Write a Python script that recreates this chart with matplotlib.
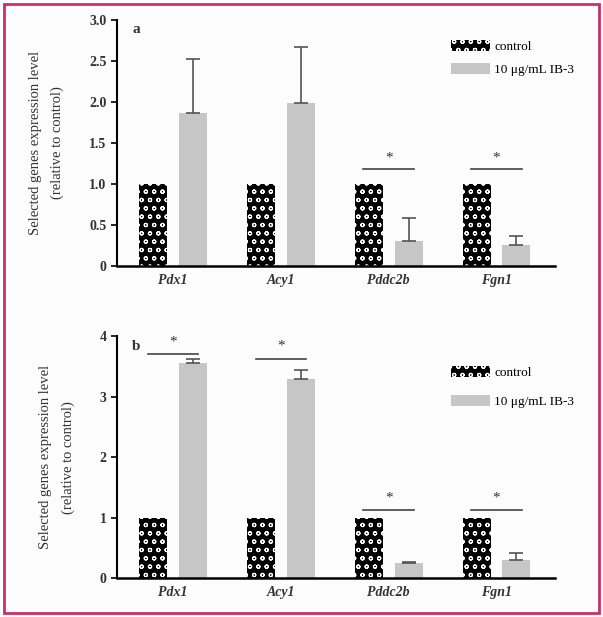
import matplotlib
matplotlib.use("Agg")
import matplotlib.pyplot as plt
import numpy as np
from matplotlib.patches import Rectangle

plt.rcParams['hatch.color'] = 'white'
plt.rcParams['hatch.linewidth'] = 0.8
plt.rcParams['font.family'] = ['Liberation Serif', 'DejaVu Serif']

genes = ["Pdx1", "Acy1", "Pddc2b", "Fgn1"]
legend_labels = ["control", "10 μg/mL IB-3"]

# panel a
ctrl_a = [1.0, 1.0, 1.0, 1.0]
trt_a = [1.86, 1.99, 0.30, 0.25]
trt_a_err = [0.66, 0.68, 0.28, 0.11]
sig_a = [False, False, True, True]
sig_a_line = [None, None, 1.18, 1.18]

# panel b
ctrl_b = [1.0, 1.0, 1.0, 1.0]
trt_b = [3.55, 3.30, 0.25, 0.30]
trt_b_err = [0.07, 0.15, 0.02, 0.12]
sig_b = [True, True, True, True]
sig_b_line = [3.70, 3.63, 1.12, 1.12]

yticks_a = [0, 0.5, 1.0, 1.5, 2.0, 2.5, 3.0]
yticklabels_a = ["0", "0.5", "1.0", "1.5", "2.0", "2.5", "3.0"]
yticks_b = [0, 1, 2, 3, 4]
yticklabels_b = ["0", "1", "2", "3", "4"]

fig = plt.figure(figsize=(6.03, 6.17), dpi=100)
fig.patch.set_facecolor('#fcfcfc')

ylabel = "Selected genes expression level\n(relative to control)"

def panel(rect, ctrl, trt, err, sig, sig_line, ylim, yticks, yticklabels, letter, sigstep,
          ylab_x, leg_anchor, leg_spacing):
    ax = fig.add_axes(rect)
    ax.set_facecolor('none')
    x = np.arange(len(genes))
    off = 0.185
    w = 0.26
    ax.bar(x - off, ctrl, w, color='black', hatch='oo', edgecolor='white', linewidth=0,
           label=legend_labels[0])
    ax.bar(x + off, trt, w, color='#c6c6c6', edgecolor='#c6c6c6', linewidth=0,
           label=legend_labels[1])
    ax.errorbar(x + off, trt, yerr=[np.zeros(len(trt)), err], fmt='none',
                ecolor='#555555', elinewidth=1.2, capsize=5, capthick=1.2)
    for i in range(len(genes)):
        if sig[i]:
            yl = sig_line[i]
            ax.plot([x[i] - off - 0.05, x[i] + off + 0.05], [yl, yl], color='#444444', lw=1.2)
            ax.text(x[i], yl + sigstep, "*", ha='center', va='center', fontsize=11, color='#333333')
    ax.set_xlim(-0.52, 3.54)
    ax.set_ylim(*ylim)
    ax.set_yticks(yticks)
    ax.set_yticklabels(yticklabels, fontsize=10, fontweight='bold', color='#333333')
    ax.set_xticks(x)
    ax.set_xticklabels(genes, fontsize=10, fontstyle='italic', fontweight='bold', color='#333333')
    ax.tick_params(axis='x', length=0, pad=6)
    ax.tick_params(axis='y', length=4, width=1.2, direction='out')
    for s in ['top', 'right']:
        ax.spines[s].set_visible(False)
    ax.spines['left'].set_linewidth(1.5)
    ax.spines['bottom'].set_linewidth(1.8)
    ax.set_ylabel(ylabel, fontsize=10.5, color='#333333', linespacing=1.9)
    ax.yaxis.set_label_coords(ylab_x, 0.5)
    ax.text(0.035, 0.985, letter, transform=ax.transAxes, fontsize=11, fontweight='bold',
            ha='left', va='top', color='#333333')
    ax.legend(loc='upper left', bbox_to_anchor=leg_anchor, frameon=False, fontsize=9.5,
              handlelength=3.0, handleheight=0.9, handletextpad=0.3, labelspacing=leg_spacing,
              borderaxespad=0)
    return ax

panel([0.194, 0.569, 0.726, 0.399], ctrl_a, trt_a, trt_a_err, sig_a, sig_a_line,
      (0, 3.0), yticks_a, yticklabels_a, "a", 0.14, -0.12, (0.75, 0.94), 0.75)
panel([0.194, 0.063, 0.726, 0.392], ctrl_b, trt_b, trt_b_err, sig_b, sig_b_line,
      (0, 4.0), yticks_b, yticklabels_b, "b", 0.2, -0.097, (0.75, 0.90), 1.2)

fig.patches.append(Rectangle((0.006, 0.007), 0.988, 0.986, transform=fig.transFigure,
                             fill=False, edgecolor='#c8306a', linewidth=2.0))

fig.savefig("out.png", dpi=100, facecolor=fig.get_facecolor())
